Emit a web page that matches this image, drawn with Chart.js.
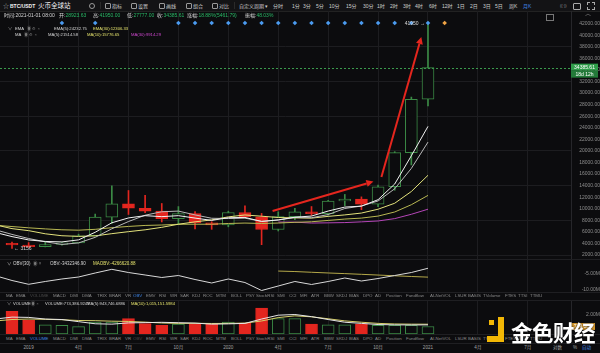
<!DOCTYPE html>
<html><head><meta charset="utf-8">
<script src="https://cdn.jsdelivr.net/npm/chart.js@4.4.1/dist/chart.umd.min.js"></script>
<style>
html,body{margin:0;padding:0;background:#0c0c0e;width:600px;height:353px;overflow:hidden;}
#root{position:relative;width:600px;height:353px;background:#0c0c0e;font-family:"Liberation Sans",Arial,"Noto Sans CJK SC",sans-serif;overflow:hidden;}
canvas{position:absolute;left:0;}
.t{position:absolute;white-space:nowrap;transform:translateY(-50%);line-height:1;}
.hl{position:absolute;left:0;width:600px;height:1px;background:#1f1f22;}
</style></head>
<body><div id="root">
<div style="position:absolute;left:0;top:0;width:600px;height:11px;background:#131315;border-bottom:1px solid #222;"></div>
<canvas id="main" width="600" height="248" style="top:11px;width:600px;height:248px"></canvas>
<canvas id="obv" width="600" height="33" style="top:259px;width:600px;height:33px"></canvas>
<canvas id="vol" width="600" height="34" style="top:300px;width:600px;height:34px"></canvas>
<div class="hl" style="top:259px"></div>
<div class="hl" style="top:292px"></div>
<div class="hl" style="top:300px"></div>
<div class="hl" style="top:334px"></div>
<div class="hl" style="top:343px"></div>
</div>
<script>
// ---------------- DATA ----------------
const months = ['2018-11','2018-12','2019-01','2019-02','2019-03','2019-04','2019-05','2019-06','2019-07','2019-08','2019-09','2019-10','2019-11','2019-12','2020-01','2020-02','2020-03','2020-04','2020-05','2020-06','2020-07','2020-08','2020-09','2020-10','2020-11','2020-12','2021-01'];
const open  = [null,4017,3701,3434,3817,4105,5321,8555,10855,10081,9588,8289,9140,7546,7194,9352,8600,6410,8620,9448,9138,11335,11650,10776,13791,19695,28923.63];
const high  = [null,4233,4143,4198,4140,5600,9074,13970,13147,12325,10905,10370,9513,7750,9578,10500,9188,9467,10067,10380,11444,12468,12050,14100,19863,29300,41950];
const low   = [null,3156,3349,3400,3690,4067,5320,7443,9010,9320,7710,7300,6515,6435,6871,8445,3782,6150,8117,8833,8893,10518,9825,10374,13195,17572,27777];
const close = [null,3742,3437,3816,4105,5321,8555,10855,10081,9588,8289,9140,7546,7194,9352,8600,6410,8620,9448,9138,11335,11650,10776,13791,19695,28923.63,34385.61];
const ema5  = [5899,5180,4606,4342,4262,4615,5928,7570,8407,8801,8630,8800,8382,7986,8441,8494,7799,8073,8531,8733,9600,10283,10447,11562,14273,19156,24232.75];
const ma5   = [6356,5559,4848,4285,3832,4088,5050,6530,7783,8880,9474,9591,8929,8351,8304,8366,7820,8035,8486,8443,8990,10038,10469,11338,13449,16967,21514.58];
const ma10  = [7215,6557,6210,5667,5329,5222,5304,5689,6034,6356,6781,7320,7729,8067,8592,8920,8706,8482,8419,8374,8678,8929,9252,9912,10946,12979,15776.65];
const ema30 = [7140,6921,6698,6512,6357,6290,6436,6721,6938,7109,7185,7311,7326,7317,7448,7522,7450,7525,7649,7745,7977,8214,8379,8728,9435,10692,12306.33];
const ma30  = [null,null,null,null,null,null,null,null,null,null,null,null,null,null,null,null,null,7698,7681,7523,7558,7602,7731,7882,8289,9040,9914.29];
const volume = [null,2.35,1.42,0.96,0.90,0.76,1.24,1.24,1.59,1.07,0.90,1.04,1.04,1.04,1.24,1.14,2.69,1.59,1.59,1.04,0.96,0.96,1.04,0.90,0.90,0.90,0.774];
const volMa5  = [1.55,1.75,1.72,1.55,1.50,1.28,1.06,1.02,1.15,1.18,1.21,1.17,1.13,1.02,1.05,1.10,1.55,1.95,2.02,1.80,1.50,1.22,1.10,0.98,0.95,0.94,0.944];
const volMa10 = [1.35,1.50,1.55,1.52,1.48,1.40,1.38,1.33,1.30,1.23,1.14,1.10,1.11,1.09,1.10,1.13,1.35,1.70,1.88,1.78,1.58,1.36,1.22,1.10,1.04,1.02,1.015];
const obv   = [-5.75,-7.25,-8.44,-7.56,-6.78,-6.16,-4.91,-3.75,-4.75,-5.53,-6.31,-5.69,-6.94,-8.03,-6.78,-7.88,-10.38,-8.97,-7.56,-8.5,-7.56,-6.47,-7.41,-6.63,-5.69,-4.75,-3.43];
const maobv = [null,null,null,null,null,null,null,null,null,null,null,null,null,null,null,null,null,-4.3,-4.45,-4.68,-4.9,-5.1,-5.32,-5.55,-5.78,-6.0,-6.2];
const priceTicks = [2000,4000,6000,8000,10000,12000,14000,16000,18000,20000,22000,24000,26000,28000,30000,32000,34000,36000,38000,40000,42000];
const obvTicks = [-5,-10];
const volTicks = [2];
const timeTickIdx = [1,4,7,10,13,16,19,22,25,28,31];
const timeTickLabels = ['2019','4月','7月','10月','2020','4月','7月','10月','2021','4月','7月'];
const markerIdx = [3,5,10,11,12,13,14,15,16,17,18,19,20,21,22,23,24,25];
const futureMarkerIdx = [26];
const arrowStartIdx = [15.66, 22.2];
const arrowStartPrice = [9606, 15484];
const arrowEndIdx = [21.72, 24.6];
const arrowEndPrice = [14705, 39683];
const tabNames = ['MA','EMA','VOLUME','MACD','DMI','DMA','TRIX','BRAR','VR','OBV','EMV','RSI','WR','SAR','KDJ','ROC','MTM','BOLL','PSY','StochRSI','SMI','CCI','MFI','ATR','BBW','SKDJ','BIAS','DPO','AD','Position','Fundflow','AI-NetVOL','LSUR','BASIS','TVolume','FTES','TTSI','TTMU'];

// ---------------- LAYOUT / STYLE ----------------
const TAB_X = [6,16,30,53,70,82,97,109,125,133,146,159,170,180,192,203,216,231,246,256,277,289,300,311,324,336,349,363,375,386,406,430,455,468,483,505,518,530];
const BG = '#0c0c0e', GRID = '#1d1d20', RED = '#e3261f', GREEN = '#3b8a45';
const FONT = '"Liberation Sans", Arial, sans-serif';
const X_MIN = -0.721, X_MAX = 33.594;
const root = document.getElementById('root');
const xOf = k => k - 1;
const up = k => close[k] >= open[k];

function txt(x, y, s, color, size, extra) {
  const d = document.createElement('div');
  d.className = 't'; d.textContent = s;
  d.style.left = x + 'px'; d.style.top = y + 'px';
  d.style.color = color; d.style.fontSize = size + 'px';
  if (extra) Object.assign(d.style, extra);
  root.appendChild(d); return d;
}
function box(x, y, w, h, style) {
  const d = document.createElement('div');
  d.style.position = 'absolute'; d.style.left = x + 'px'; d.style.top = y + 'px';
  d.style.width = w + 'px'; d.style.height = h + 'px';
  Object.assign(d.style, style || {});
  root.appendChild(d); return d;
}

function xAxis() {
  return {
    type: 'linear', min: X_MIN, max: X_MAX, display: true, offset: false,
    ticks: {display: false}, border: {display: false},
    grid: {color: GRID, drawTicks: false, lineWidth: 1, offset: false},
    afterBuildTicks: s => { s.ticks = timeTickIdx.map(v => ({value: v})); },
    afterFit: s => { s.height = 0; s.paddingLeft = 0; s.paddingRight = 0; }
  };
}
function yAxis(min, max, ticks, fmt, gridFn) {
  return {
    position: 'right', min, max,
    afterBuildTicks: s => { s.ticks = ticks.map(v => ({value: v})); },
    afterFit: s => { s.width = 29; s.paddingTop = 0; s.paddingBottom = 0; },
    ticks: {color: '#8e8e8e', font: {size: 5, family: FONT}, padding: 3, crossAlign: 'far', autoSkip: false, callback: fmt},
    grid: {drawTicks: false, color: gridFn || 'transparent'},
    border: {display: true, color: '#26262a'}
  };
}
const baseOpts = {
  responsive: false, animation: false, events: [],
  layout: {padding: 0, autoPadding: false},
  plugins: {legend: {display: false}, tooltip: {enabled: false}}
};
function lineDs(arr, color, order) {
  return {type: 'line', data: arr.map((v, k) => ({x: xOf(k), y: v})), borderColor: color, borderWidth: 1,
    pointRadius: 0, tension: 0, order: order || 0, spanGaps: false};
}

// ---------------- MAIN PRICE CHART ----------------
const ks = months.map((m, k) => k).filter(k => open[k] !== null);
function arrow(ctx, x1, y1, x2, y2) {
  ctx.strokeStyle = ctx.fillStyle = '#e5261e'; ctx.lineWidth = 2;
  const a = Math.atan2(y2 - y1, x2 - x1), hl = 7, hw = 3.5;
  const bx = x2 - hl * Math.cos(a), by = y2 - hl * Math.sin(a);
  ctx.beginPath(); ctx.moveTo(x1, y1); ctx.lineTo(bx, by); ctx.stroke();
  ctx.beginPath(); ctx.moveTo(x2, y2);
  ctx.lineTo(bx + hw * Math.sin(a), by - hw * Math.cos(a));
  ctx.lineTo(bx - hw * Math.sin(a), by + hw * Math.cos(a));
  ctx.closePath(); ctx.fill();
}
const mainOverlay = {
  id: 'mainOverlay',
  afterDatasetsDraw(chart) {
    const {ctx, chartArea: a, scales: {x, y}} = chart;
    const last = close.length - 1;
    ctx.save();
    const py = Math.round(y.getPixelForValue(close[last])) + 0.5;
    ctx.setLineDash([2, 2]); ctx.strokeStyle = '#3a9a4c'; ctx.lineWidth = 1;
    ctx.beginPath(); ctx.moveTo(a.left, py); ctx.lineTo(a.right, py); ctx.stroke();
    ctx.setLineDash([]);
    for (let i = 0; i < arrowStartIdx.length; i++) {
      arrow(ctx, x.getPixelForValue(arrowStartIdx[i]), y.getPixelForValue(arrowStartPrice[i]),
        x.getPixelForValue(arrowEndIdx[i]), y.getPixelForValue(arrowEndPrice[i]));
    }
    const my = a.top + 12;
    const dia = (cx, col) => {
      ctx.fillStyle = col; ctx.beginPath();
      ctx.moveTo(cx, my - 2.3); ctx.lineTo(cx + 2.3, my); ctx.lineTo(cx, my + 2.3); ctx.lineTo(cx - 2.3, my);
      ctx.closePath(); ctx.fill();
    };
    markerIdx.forEach(i => dia(x.getPixelForValue(i), '#4b9bf0'));
    futureMarkerIdx.forEach(i => dia(x.getPixelForValue(i), '#f0a445'));
    let hk = ks[0], lk = ks[0];
    ks.forEach(k => { if (high[k] > high[hk]) hk = k; if (low[k] < low[lk]) lk = k; });
    ctx.font = '5px ' + FONT; ctx.fillStyle = '#d8d8d8'; ctx.textBaseline = 'middle';
    ctx.textAlign = 'right';
    ctx.fillText(Math.round(high[hk]) + ' →', x.getPixelForValue(xOf(hk)) - 3, y.getPixelForValue(high[hk]));
    ctx.textAlign = 'left';
    ctx.fillText('← ' + Math.round(low[lk]), x.getPixelForValue(xOf(lk)) + 2, y.getPixelForValue(low[lk]));
    ctx.restore();
  },
  afterDraw(chart) {
    const {ctx, chartArea: a, scales: {y}} = chart;
    const last = close.length - 1;
    const py = y.getPixelForValue(close[last]);
    ctx.save();
    ctx.fillStyle = '#2f9d4a'; ctx.fillRect(a.right, py - 4, 27, 7);
    ctx.fillStyle = '#237a39'; ctx.fillRect(a.right, py + 3, 27, 7);
    ctx.fillStyle = '#ffffff'; ctx.font = '5px ' + FONT; ctx.textAlign = 'center'; ctx.textBaseline = 'middle';
    ctx.fillText(close[last].toFixed(2), a.right + 13.5, py - 0.5);
    ctx.fillText('18d 12h', a.right + 13.5, py + 6.5);
    ctx.restore();
  }
};
const mainChart = new Chart(document.getElementById('main'), {
  type: 'bar',
  data: {datasets: [
    lineDs(ema5, '#f2f2f2', 0),
    lineDs(ma5, '#b9b9b9', 0),
    lineDs(ma10, '#e4e37c', 0),
    lineDs(ema30, '#b9b853', 0),
    lineDs(ma30, '#b546b8', 0),
    {type: 'bar', data: ks.map(k => ({x: xOf(k), y: [open[k], close[k]]})), barThickness: 12, grouped: false,
      backgroundColor: ks.map(k => up(k) ? BG : RED), borderColor: ks.map(k => up(k) ? GREEN : RED),
      borderWidth: 1, borderSkipped: false, order: 5},
    {type: 'bar', data: ks.map(k => ({x: xOf(k), y: [low[k], high[k]]})), barThickness: 1, grouped: false,
      backgroundColor: ks.map(k => up(k) ? GREEN : RED), borderWidth: 0, order: 6}
  ]},
  options: Object.assign({}, baseOpts, {
    scales: {
      x: xAxis(),
      y: yAxis(1308.6, 44178, priceTicks, v => Number(v).toFixed(2),
        c => (c.tick && (c.tick.value - 2000) % 6000 === 0) ? GRID : 'transparent')
    }
  }),
  plugins: [mainOverlay]
});

// ---------------- OBV CHART ----------------
new Chart(document.getElementById('obv'), {
  type: 'line',
  data: {datasets: [lineDs(obv, '#d9d9d9', 0), lineDs(maobv, '#b5a94a', 0)]},
  options: Object.assign({}, baseOpts, {
    scales: {x: xAxis(), y: yAxis(-10.844, -0.531, obvTicks, v => Number(v).toFixed(2) + 'M')}
  })
});

// ---------------- VOLUME CHART ----------------
const volOverlay = {
  id: 'volOverlay',
  afterDraw(chart) {
    const {ctx, chartArea: a, scales: {y}} = chart;
    const last = volume.length - 1;
    const py = y.getPixelForValue(volume[last]);
    ctx.save();
    ctx.fillStyle = '#d99a2c'; ctx.fillRect(a.right, py - 3.5, 24, 7);
    ctx.fillStyle = '#fff'; ctx.font = '5px ' + FONT; ctx.textAlign = 'center'; ctx.textBaseline = 'middle';
    ctx.fillText((volume[last] * 1000).toFixed(2) + 'K', a.right + 12, py);
    ctx.restore();
  }
};
new Chart(document.getElementById('vol'), {
  type: 'bar',
  data: {datasets: [
    lineDs(volMa5, '#e6e6e6', 0),
    lineDs(volMa10, '#d6cf6a', 0),
    {type: 'bar', data: ks.map(k => ({x: xOf(k), y: volume[k]})), barThickness: 12, grouped: false,
      backgroundColor: ks.map(k => up(k) ? BG : RED), borderColor: ks.map(k => up(k) ? GREEN : RED),
      borderWidth: 1, borderSkipped: false, order: 5}
  ]},
  options: Object.assign({}, baseOpts, {
    scales: {x: xAxis(), y: yAxis(0, 3.523, volTicks, v => Number(v).toFixed(2) + 'M')}
  }),
  plugins: [volOverlay]
});

// ---------------- HTML TEXT ----------------
const W = '#d6d6d6', G = '#8a8a8a', GT = '#29b866', YL = '#e2e06c', MG = '#cf48cf', BL = '#3f86e6';
txt(3, 5.5, '☆', '#aaa', 6);
txt(10, 5.5, 'BTC/USDT', '#f0f0f0', 5, {fontWeight: 'bold'});
txt(38, 5.5, '火币全球站', '#f0f0f0', 6.5);
box(89, 3, 4, 4, {border: '1px solid #999', borderRadius: '50%'});
box(100, 2, 1, 7, {background: '#2a2a2a'});
[[105, '指标'], [131, '设置'], [159, '画线'], [186, '组合'], [212, '对比']].forEach(([x, s]) => {
  box(x, 3, 4, 4, {border: '1px solid #999', borderRadius: '1px'});
  txt(x + 7, 5.5, s, '#cfcfcf', 5);
});
box(234, 2, 1, 7, {background: '#2a2a2a'});
txt(239, 5.5, '自定义周期 ▾', '#cfcfcf', 5);
[[273, '分时'], [292, '1分'], [303, '3分'], [316, '5分'], [329, '10分'], [346, '15分'], [363, '30分'], [377, '1时'], [390, '2时'], [403, '3时'], [415, '4时'], [429, '6时'], [442, '12时'], [457, '1日'], [470, '2日'], [483, '3日'], [495, '5日'], [509, '周K']].forEach(([x, s]) => txt(x, 5.5, s, '#cfcfcf', 5));
txt(523, 5.5, '月K', BL, 5);
txt(560, 5.5, '((·))', '#999', 4);
box(573, 3, 6, 5, {border: '1px solid #aaa', borderRadius: '1px'});
box(587, 2, 6, 6, {border: '1px dashed #aaa'});
txt(4, 15, '时间:2021-01-01 08:00', W, 5);
[[59, '开:', '28923.63'], [93, '高:', '41950.00'], [127, '低:', '27777.00'], [157, '收:', '34385.61'], [187, '涨幅:', '18.88%(5461.79)'], [245, '振幅:', '48.03%']].forEach(([x, l, v]) => {
  const d = txt(x, 15, l, W, 5);
  const s = document.createElement('span'); s.textContent = v; s.style.color = GT; d.appendChild(s);
});
box(546, 14, 6, 5, {border: '1px solid #777'});
txt(585, 13, '︿', '#999', 6);
txt(8, 29.3, '∨', '#aaa', 4.2); txt(15, 29.3, 'EMA', W, 4.2);
txt(27, 29.3, '◉  ⚙  ×', '#777', 4.2);
txt(54, 29.3, 'EMA(5):24232.75', W, 4.2); txt(93, 29.3, 'EMA(30):12306.33', YL, 4.2);
txt(15, 35.3, 'MA', W, 4.2); txt(24, 35.3, '◉  ⚙  ×', '#777', 4.2);
txt(48, 35.3, 'MA(5):21514.58', W, 4.2); txt(87, 35.3, 'MA(10):15776.65', YL, 4.2); txt(131, 35.3, 'MA(30):9914.29', MG, 4.2);
txt(7, 264.3, '∨', '#aaa', 4.5); txt(13, 264.3, 'OBV(30)', W, 4.5); txt(33, 264.3, '◉  ×', '#777', 4.5);
txt(50, 264.3, 'OBV:-3432346.90', W, 4.5); txt(93, 264.3, 'MAOBV:-4266620.88', YL, 4.5);
txt(7, 304.3, '∨', '#aaa', 4.2); txt(13, 304.3, 'VOLUME', W, 4.2); txt(31, 304.3, '◉  ×', '#777', 4.2);
txt(45, 304.3, 'VOLUME:774,386.9247', W, 4.2); txt(87, 304.3, 'MA(5):943,746.6886', W, 4.2); txt(131, 304.3, 'MA(10):1,015,151.5984', YL, 4.2);
tabNames.forEach((n, i) => {
  txt(TAB_X[i], 296.3, n, n === 'OBV' ? BL : (n === 'VOLUME' ? '#4a4a4a' : G), 4.4);
  txt(TAB_X[i], 339, n, n === 'VOLUME' ? BL : (n === 'OBV' ? '#4a4a4a' : G), 4.4);
});
timeTickIdx.forEach((v, i) => {
  txt(mainChart.scales.x.getPixelForValue(v), 348, timeTickLabels[i], '#a3a3a3', 4.6, {transform: 'translate(-50%,-50%)'});
});
txt(553, 348, '对数', '#a3a3a3', 4.6); txt(573, 348, '%', '#a3a3a3', 4.6); txt(582, 348, '自动', BL, 4.6);
box(489, 320, 5, 5, {background: '#f2b705'});
box(498, 317, 6, 24, {background: '#f2b705'});
box(487, 336, 17, 6, {background: '#f2b705'});
txt(511, 332, '金色财经', '#ffffff', 21.5, {fontFamily: '"Noto Sans CJK SC", sans-serif', fontWeight: 'bold', textShadow: '0 0 2px #000', letterSpacing: '-0.5px'});
</script>
</body></html>
